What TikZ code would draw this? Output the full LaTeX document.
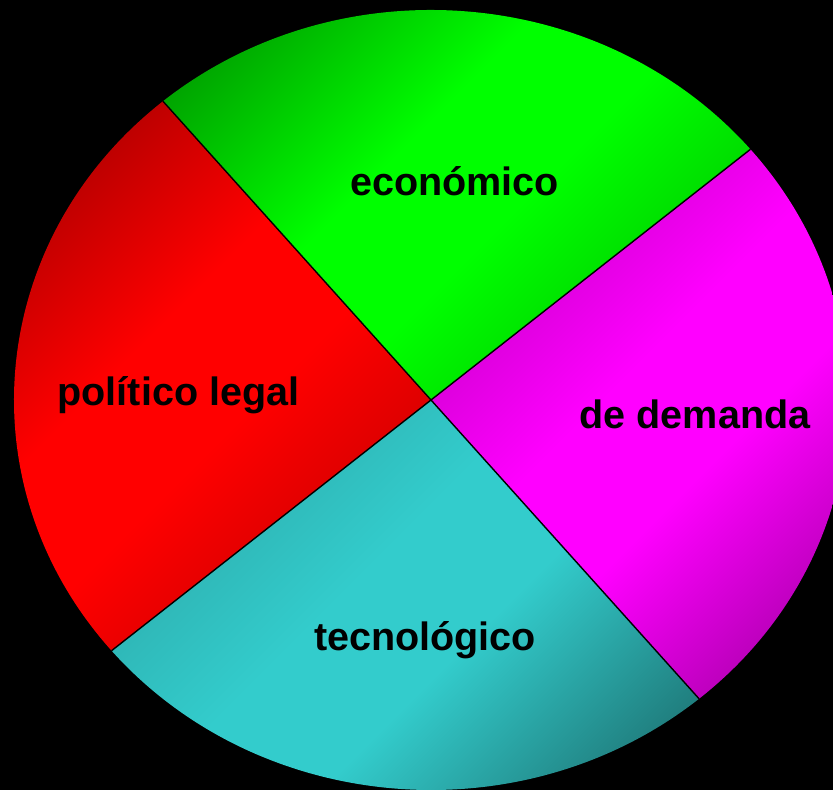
\documentclass[tikz,border=0pt]{standalone}
\usepackage{fontspec}
\setmainfont{Liberation Sans}
\definecolor{ecohigh}{RGB}{0,255,0}
\definecolor{ecodark}{RGB}{0,155,0}
\definecolor{ecolow}{RGB}{0,195,0}
\definecolor{polhigh}{RGB}{255,0,0}
\definecolor{poldark}{RGB}{165,0,0}
\definecolor{pollow}{RGB}{195,0,0}
\definecolor{techigh}{RGB}{51,204,204}
\definecolor{tecdark}{RGB}{44,168,168}
\definecolor{teclow}{RGB}{30,118,118}
\definecolor{demhigh}{RGB}{255,0,255}
\definecolor{demdark}{RGB}{195,0,195}
\definecolor{demlow}{RGB}{165,0,165}
% dark - bright - dark band for each slice
\pgfdeclareverticalshading{ecoshade}{100bp}{color(0bp)=(ecolow); color(22bp)=(ecolow); color(44bp)=(ecohigh); color(56bp)=(ecohigh); color(78bp)=(ecodark); color(100bp)=(ecodark)}
\pgfdeclareverticalshading{polshade}{100bp}{color(0bp)=(pollow); color(22bp)=(pollow); color(44bp)=(polhigh); color(56bp)=(polhigh); color(78bp)=(poldark); color(100bp)=(poldark)}
\pgfdeclareverticalshading{tecshade}{100bp}{color(0bp)=(teclow); color(22bp)=(teclow); color(44bp)=(techigh); color(56bp)=(techigh); color(78bp)=(tecdark); color(100bp)=(tecdark)}
\pgfdeclareverticalshading{demshade}{100bp}{color(0bp)=(demlow); color(22bp)=(demlow); color(44bp)=(demhigh); color(56bp)=(demhigh); color(78bp)=(demdark); color(100bp)=(demdark)}

\begin{document}
\begin{tikzpicture}[
    slice/.style={shade,shading=#1,shading angle=45},
    pielabel/.style={font=\bfseries\fontsize{22.5}{27}\selectfont,text=black,inner sep=0pt},
    divider/.style={draw=black,line width=0.8pt}
  ]
    \fill[black] (0,0) rectangle (16.66,15.8);
    \clip (0,0) rectangle (16.66,15.8);
    \coordinate (center) at (8.62,7.8);

    % four quarter slices of the flattened disc
    \path[slice=ecoshade]
      (center) -- ++(40:8.34 and 7.8) arc[start angle=40,end angle=130,x radius=8.34,y radius=7.8] -- cycle;
    \path[slice=polshade]
      (center) -- ++(130:8.34 and 7.8) arc[start angle=130,end angle=220,x radius=8.34,y radius=7.8] -- cycle;
    \path[slice=tecshade]
      (center) -- ++(220:8.34 and 7.8) arc[start angle=220,end angle=310,x radius=8.34,y radius=7.8] -- cycle;
    \path[slice=demshade]
      (center) -- ++(310:8.34 and 7.8) arc[start angle=310,end angle=400,x radius=8.34,y radius=7.8] -- cycle;

    \path (center) ++(40:8.34 and 7.8) coordinate (rimne);
    \path (center) ++(130:8.34 and 7.8) coordinate (rimnw);
    \path (center) ++(220:8.34 and 7.8) coordinate (rimsw);
    \path (center) ++(310:8.34 and 7.8) coordinate (rimse);

    \draw[divider] (center) -- (rimne);
    \draw[divider] (center) -- (rimnw);
    \draw[divider] (center) -- (rimsw);
    \draw[divider] (center) -- (rimse);

    \node[pielabel] (economico) at (9.09,12.18) {económico};
    \node[pielabel] (politico) at (3.57,7.9) {político legal};
    \node[pielabel] (demanda) at (13.9,7.52) {de demanda};
    \node[pielabel] (tecnologico) at (8.5,3.0) {tecnológico};
  \end{tikzpicture}
\end{document}
